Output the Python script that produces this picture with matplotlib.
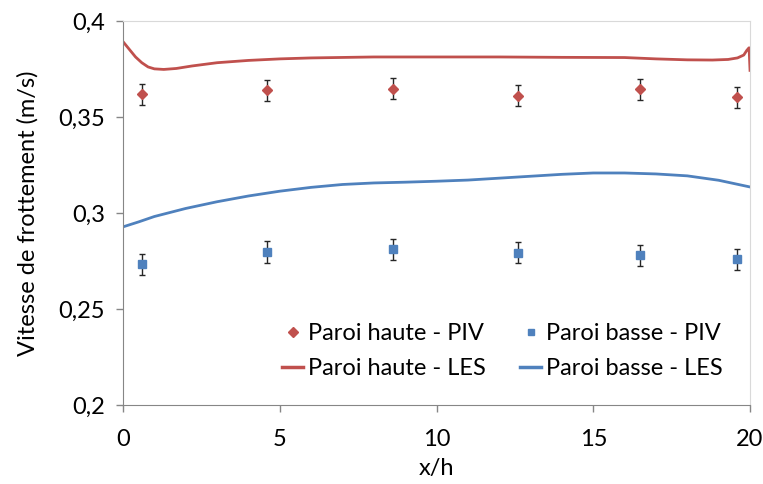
import matplotlib
matplotlib.use("Agg")
import matplotlib.pyplot as plt
from matplotlib.lines import Line2D
from matplotlib.ticker import FuncFormatter

# PIV measurements (friction velocity, m/s) with their uncertainty
x_piv = [0.6, 4.6, 8.6, 12.6, 16.5, 19.6]
haute_piv = [0.362, 0.3642, 0.365, 0.3612, 0.3647, 0.3604]
basse_piv = [0.2735, 0.2798, 0.2812, 0.2793, 0.278, 0.2761]
err_piv = 0.0055

# LES profiles along the channel
x_les_haute = [0, 0.2, 0.4, 0.6, 0.8, 1.0, 1.3, 1.7, 2.2, 3, 4, 5, 6, 8, 10,
               12, 14, 16, 17, 18, 18.8, 19.3, 19.6, 19.8, 19.9, 19.97, 20]
haute_les = [0.3895, 0.3855, 0.3815, 0.3785, 0.3763, 0.3753, 0.375, 0.3755,
             0.3768, 0.3785, 0.3797, 0.3805, 0.381, 0.3815, 0.3815, 0.3815,
             0.3813, 0.3812, 0.3805, 0.3800, 0.3799, 0.3802, 0.381, 0.3825,
             0.385, 0.3863, 0.3745]
x_les_basse = [0, 0.5, 1, 2, 3, 4, 5, 6, 7, 8, 9, 10, 11, 12, 13, 14, 15, 16,
               17, 18, 19, 20]
basse_les = [0.2929, 0.2955, 0.2983, 0.3025, 0.306, 0.309, 0.3115, 0.3135,
             0.315, 0.3158, 0.3162, 0.3167, 0.3173, 0.3183, 0.3193, 0.3203,
             0.321, 0.321, 0.3205, 0.3195, 0.3172, 0.3137]

RED = "#C0504D"
BLUE = "#4F81BD"
AXIS = "#868686"

plt.rcParams["font.family"] = ["Lato", "DejaVu Sans"]
plt.rcParams["font.size"] = 17

fig = plt.figure(figsize=(7.63, 4.84), dpi=100)
ax = fig.add_axes([0.1612, 0.1632, 0.8218, 0.7924])

ax.plot(x_les_haute, haute_les, color=RED, lw=2.0, zorder=2)
ax.plot(x_les_basse, basse_les, color=BLUE, lw=2.0, zorder=2)
ax.errorbar(x_piv, haute_piv, yerr=err_piv, fmt="D", color=RED, ms=5.5,
            ecolor="#262626", elinewidth=1, capsize=2.5, capthick=1, zorder=3)
ax.errorbar(x_piv, basse_piv, yerr=err_piv, fmt="s", color=BLUE, ms=5.5,
            ecolor="#262626", elinewidth=1, capsize=2.5, capthick=1, zorder=3)

ax.set_xlim(0, 20)
ax.set_ylim(0.2, 0.4)
ax.set_xticks([0, 5, 10, 15, 20])
ax.set_yticks([0.2, 0.25, 0.3, 0.35, 0.4])
ax.yaxis.set_major_formatter(
    FuncFormatter(lambda v, _: f"{v:g}".replace(".", ",")))
ax.tick_params(direction="out", length=5, width=1, color=AXIS)
ax.tick_params(axis="x", pad=12)
ax.tick_params(axis="y", pad=8)

for side in ("left", "bottom"):
    ax.spines[side].set_color(AXIS)
for side in ("top", "right"):
    ax.spines[side].set_color("#D9D9D9")

ax.set_xlabel("x/h", labelpad=6)
ax.set_ylabel("Vitesse de frottement (m/s)", labelpad=14)

handles = [
    Line2D([], [], marker="D", ls="none", color=RED, ms=5),
    Line2D([], [], color=RED, lw=2.5),
    Line2D([], [], marker="s", ls="none", color=BLUE, ms=5),
    Line2D([], [], color=BLUE, lw=2.5),
]
labels = ["Paroi haute - PIV", "Paroi haute - LES",
          "Paroi basse - PIV", "Paroi basse - LES"]
ax.legend(handles, labels, ncol=2, frameon=False, loc="upper left",
          bbox_to_anchor=(0.235, 0.245), handlelength=0.9, handletextpad=0.2,
          columnspacing=1.45, labelspacing=0.6, borderpad=0)

fig.savefig("out.png", dpi=100)
